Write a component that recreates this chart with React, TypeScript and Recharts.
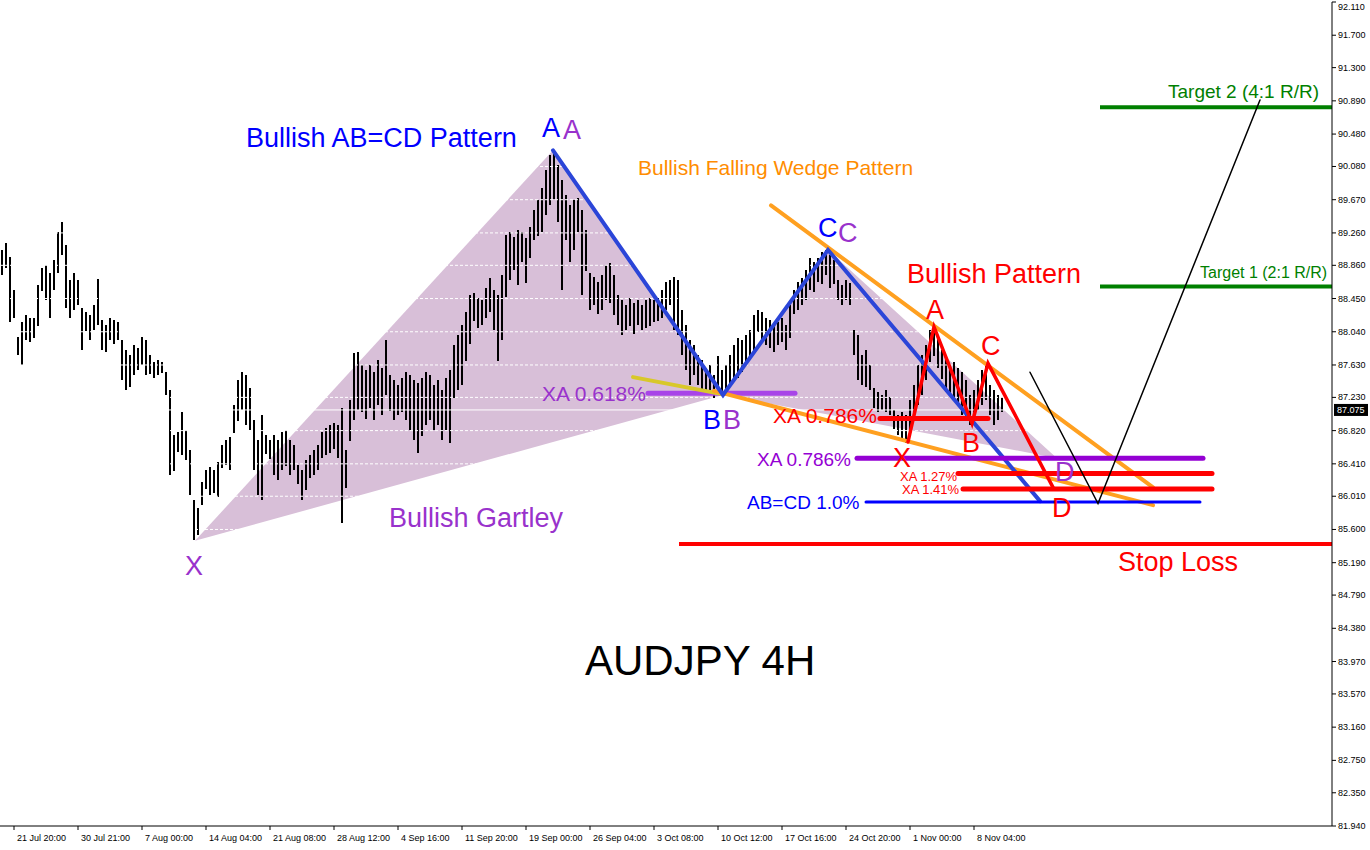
import { ComposedChart, Bar, Line, Area, Scatter, XAxis, YAxis } from 'recharts'

const FONT = '"Liberation Sans", Arial, sans-serif'

// price axis (right)
const priceTicks = [
  81.94, 82.35, 82.75, 83.16, 83.57, 83.97, 84.38, 84.79, 85.19, 85.6, 86.01, 86.41, 86.82,
  87.23, 87.63, 88.04, 88.45, 88.86, 89.26, 89.67, 90.08, 90.48, 90.89, 91.3, 91.7, 92.11,
]

// time axis: bar index of each label
const dateTickIdx = [3, 19, 35, 51, 67, 83, 99, 115, 131, 147, 163, 179, 195, 211, 227, 243]
const dateLabels = [
  '21 Jul 20:00', '30 Jul 21:00', '7 Aug 00:00', '14 Aug 04:00', '21 Aug 08:00', '28 Aug 12:00',
  '4 Sep 16:00', '11 Sep 20:00', '19 Sep 00:00', '26 Sep 04:00', '3 Oct 08:00', '10 Oct 12:00',
  '17 Oct 16:00', '24 Oct 20:00', '1 Nov 00:00', '8 Nov 04:00',
]

// AUDJPY 4H bars (high / low)
const highs = [
  89.05, 89.14, 88.96, 88.55, 87.97, 88.16, 88.25, 88.21, 88.21, 88.62,
  88.83, 88.86, 88.77, 88.92, 89.27, 89.40, 89.11, 88.68, 88.77, 88.68,
  88.33, 88.28, 88.25, 88.37, 88.69, 88.18, 88.12, 88.21, 88.18, 88.16,
  87.94, 87.81, 87.75, 87.88, 87.84, 87.97, 87.94, 87.75, 87.67, 87.69,
  87.67, 87.54, 87.32, 86.76, 86.80, 87.05, 86.83, 86.58, 85.96, 85.86,
  86.19, 86.33, 86.37, 86.33, 86.43, 86.64, 86.70, 86.74, 87.14, 87.45,
  87.54, 87.51, 87.35, 86.95, 86.70, 87.01, 86.76, 86.70, 86.76, 86.70,
  86.80, 86.83, 86.70, 86.64, 86.39, 86.33, 86.46, 86.52, 86.58, 86.64,
  86.80, 86.85, 86.89, 86.92, 86.89, 87.10, 86.58, 87.20, 87.78, 87.79,
  87.63, 87.57, 87.63, 87.54, 87.69, 87.59, 87.94, 87.51, 87.44, 87.38,
  87.47, 87.54, 87.51, 87.44, 87.41, 87.47, 87.54, 87.51, 87.38, 87.44,
  87.32, 87.47, 87.57, 87.88, 88.00, 88.12, 88.28, 88.49, 88.52, 88.46,
  88.43, 88.58, 88.70, 88.55, 88.49, 88.74, 89.23, 89.27, 89.21, 89.30,
  89.27, 89.20, 89.33, 89.54, 89.67, 89.81, 90.04, 90.22, 90.28, 90.10,
  89.91, 89.73, 89.60, 89.67, 89.69, 89.54, 89.30, 88.77, 88.72, 88.65,
  88.74, 88.86, 88.89, 88.74, 88.49, 88.43, 88.37, 88.46, 88.40, 88.43,
  88.37, 88.43, 88.46, 88.43, 88.46, 88.55, 88.65, 88.68, 88.72, 88.68,
  88.31, 88.12, 87.94, 87.88, 87.75, 87.69, 87.59, 87.63, 87.51, 87.74,
  87.57, 87.63, 87.75, 87.88, 87.96, 87.94, 88.00, 88.06, 88.25, 88.31,
  88.28, 88.21, 88.18, 88.12, 88.16, 88.21, 88.12, 88.37, 88.55, 88.65,
  88.70, 88.80, 88.95, 88.90, 88.95, 89.02, 89.05, 88.99, 88.92, 88.68,
  88.62, 88.68, 88.64, 88.06, 88.00, 87.75, 87.81, 87.63, 87.35, 87.30,
  87.26, 87.32, 87.23, 87.07, 87.01, 87.05, 87.01, 87.20, 87.38, 87.63,
  87.75, 87.88, 88.06, 88.09, 88.00, 87.81, 87.72, 87.63, 87.67, 87.59,
  87.54, 87.44, 87.26, 87.32, 87.44, 87.57, 87.63, 87.38, 87.32, 87.26,
  87.23,
]
const lows = [
  88.74, 88.83, 88.16, 88.21, 87.75, 87.63, 87.94, 87.91, 87.96, 88.12,
  88.55, 88.43, 88.21, 88.55, 88.77, 88.99, 88.33, 88.21, 88.31, 88.37,
  87.81, 88.04, 87.94, 88.06, 88.12, 87.81, 87.79, 87.94, 87.88, 87.94,
  87.45, 87.32, 87.35, 87.51, 87.57, 87.63, 87.51, 87.51, 87.47, 87.51,
  87.53, 87.26, 86.27, 86.31, 86.55, 86.52, 86.46, 86.02, 85.47, 85.53,
  85.90, 86.09, 86.02, 86.05, 86.00, 86.36, 86.39, 86.33, 86.80, 86.95,
  87.07, 86.89, 86.83, 86.33, 86.02, 85.96, 86.52, 86.46, 86.27, 86.21,
  86.33, 86.39, 86.27, 86.33, 86.15, 85.96, 86.09, 86.23, 86.27, 86.33,
  86.48, 86.52, 86.55, 86.60, 86.48, 85.68, 86.11, 86.70, 86.95, 87.07,
  87.05, 86.97, 87.10, 86.95, 87.14, 87.01, 87.26, 87.07, 86.95, 87.01,
  87.05, 86.95, 86.83, 86.70, 86.54, 86.76, 86.89, 86.95, 86.83, 86.89,
  86.70, 86.83, 86.67, 87.22, 87.32, 87.38, 87.67, 87.88, 88.18, 88.09,
  88.12, 88.21, 88.28, 88.06, 87.67, 87.94, 88.46, 88.68, 88.80, 88.62,
  88.90, 88.65, 88.95, 89.17, 89.23, 89.27, 89.48, 89.60, 89.67, 89.40,
  88.55, 89.17, 88.90, 89.05, 89.27, 88.49, 88.80, 88.31, 88.37, 88.25,
  88.31, 88.43, 88.40, 88.25, 88.12, 88.00, 88.06, 88.12, 88.02, 88.12,
  88.06, 88.09, 88.12, 88.16, 88.18, 88.21, 88.31, 88.37, 88.06, 88.00,
  87.75, 87.57, 87.38, 87.51, 87.38, 87.32, 87.26, 87.29, 87.23, 87.27,
  87.26, 87.29, 87.38, 87.42, 87.47, 87.54, 87.63, 87.69, 87.81, 88.04,
  87.94, 87.88, 87.84, 87.79, 87.88, 87.91, 87.81, 87.96, 88.25, 88.31,
  88.37, 88.43, 88.55, 88.53, 88.65, 88.62, 88.74, 88.58, 88.62, 88.43,
  88.37, 88.43, 88.37, 87.75, 87.44, 87.38, 87.35, 87.32, 87.10, 87.05,
  87.07, 87.05, 87.01, 86.83, 86.76, 86.70, 86.67, 86.80, 86.95, 87.14,
  87.26, 87.45, 87.67, 87.75, 87.59, 87.45, 87.30, 87.26, 87.20, 87.14,
  87.01, 86.97, 86.89, 86.92, 87.07, 87.14, 87.20, 87.01, 86.89, 86.95,
  87.05,
]
const lastPrice = 87.075

const bars = highs.map((h, i) => ({ x: i, range: [lows[i], h] }))

// pattern drawings, [bar index, price]
const gartleyXAB = [
  { x: 48.25, band: [85.46, 85.46] },
  { x: 137.75, band: [86.68, 90.28] },
  { x: 180.25, band: [87.26, 87.26] },
]
const gartleyBCD = [
  { x: 180.25, band: [87.26, 87.26] },
  { x: 206.5, band: [87.02, 89.05] },
  { x: 263.75, band: [86.48, 86.48] },
]
const abcd = [
  { x: 137.75, p: 90.28 }, { x: 180.25, p: 87.26 }, { x: 206.5, p: 89.05 }, { x: 259.5, p: 85.95 },
]
const redPattern = [
  { x: 226.5, p: 86.68 }, { x: 233, p: 88.1 }, { x: 242.5, p: 86.91 }, { x: 246.5, p: 87.65 }, { x: 262.75, p: 86.12 },
]
const wedgeTop = [{ x: 192.25, p: 89.6 }, { x: 287.75, p: 86.12 }]
const wedgeBottom = [{ x: 178, p: 87.31 }, { x: 287.75, p: 85.9 }]
const wedgeLead = [{ x: 157.75, p: 87.48 }, { x: 180, p: 87.27 }]
const projection = [{ x: 257, p: 87.54 }, { x: 274, p: 85.92 }, { x: 314.5, p: 90.9 }]

const xa618 = [{ x: 161.5, p: 87.28 }, { x: 198.25, p: 87.28 }]
const xa786Red = [{ x: 219.5, p: 86.97 }, { x: 246.5, p: 86.97 }]
const xa786 = [{ x: 213.75, p: 86.48 }, { x: 300.25, p: 86.48 }]
const xa127 = [{ x: 239, p: 86.29 }, { x: 302.5, p: 86.29 }]
const xa141 = [{ x: 240.25, p: 86.1 }, { x: 302.5, p: 86.1 }]
const abcd100 = [{ x: 216, p: 85.94 }, { x: 299.5, p: 85.94 }]
const stopLoss = [{ x: 169.25, p: 85.42 }, { x: 332.5, p: 85.42 }]
const target1 = [{ x: 274.5, p: 88.6 }, { x: 332.5, p: 88.6 }]
const target2 = [{ x: 274.5, p: 90.81 }, { x: 332.5, p: 90.81 }]

const gridRows = priceTicks.map(p => [{ x: -0.5, p }, { x: 332.5, p }])
const bidRow = [{ x: -0.5, p: lastPrice }, { x: 332.5, p: lastPrice }]

const notes = [
  { x: 61, p: 90.32, text: 'Bullish AB=CD Pattern', kind: 'blueBig' },
  { x: 135, p: 90.44, text: 'A', kind: 'blueBig' },
  { x: 140.25, p: 90.42, text: 'A', kind: 'purpleBig' },
  { x: 159, p: 89.97, text: 'Bullish Falling Wedge Pattern', kind: 'orange' },
  { x: 204, p: 89.21, text: 'C', kind: 'blueBig' },
  { x: 209, p: 89.15, text: 'C', kind: 'purpleBig' },
  { x: 226.25, p: 88.64, text: 'Bullish Pattern', kind: 'redBig' },
  { x: 231, p: 88.2, text: 'A', kind: 'redBig' },
  { x: 244.75, p: 87.75, text: 'C', kind: 'redBig' },
  { x: 135, p: 87.18, text: 'XA 0.618%', kind: 'purpleMid' },
  { x: 175.25, p: 86.84, text: 'B', kind: 'blueBig' },
  { x: 180.25, p: 86.84, text: 'B', kind: 'purpleBig' },
  { x: 192.75, p: 86.91, text: 'XA 0.786%', kind: 'redMid' },
  { x: 240, p: 86.55, text: 'B', kind: 'redBig' },
  { x: 222.75, p: 86.37, text: 'X', kind: 'redBig' },
  { x: 188.75, p: 86.38, text: 'XA 0.786%', kind: 'violetMid' },
  { x: 224.5, p: 86.2, text: 'XA 1.27%', kind: 'redSmall' },
  { x: 225, p: 86.04, text: 'XA 1.41%', kind: 'redSmall' },
  { x: 263.25, p: 86.2, text: 'D', kind: 'purpleBig' },
  { x: 262.5, p: 85.75, text: 'D', kind: 'redBig' },
  { x: 186.25, p: 85.85, text: 'AB=CD 1.0%', kind: 'blueMid' },
  { x: 96.75, p: 85.63, text: 'Bullish Gartley', kind: 'purpleBig' },
  { x: 45.75, p: 85.04, text: 'X', kind: 'purpleBig' },
  { x: 279, p: 85.09, text: 'Stop Loss', kind: 'redBig' },
  { x: 291.5, p: 90.93, text: 'Target 2 (4:1 R/R)', kind: 'green2' },
  { x: 299.5, p: 88.7, text: 'Target 1 (2:1 R/R)', kind: 'green1' },
  { x: 145.75, p: 83.8, text: 'AUDJPY 4H', kind: 'title' },
]

const noteStyle: Record<string, { fill: string; size: number }> = {
  blueBig: { fill: '#0000ff', size: 27 },
  blueMid: { fill: '#0000ff', size: 19 },
  purpleBig: { fill: '#9932cc', size: 27 },
  purpleMid: { fill: '#9932cc', size: 21 },
  violetMid: { fill: '#9400d3', size: 19 },
  redBig: { fill: '#ff0000', size: 27 },
  redMid: { fill: '#ff0000', size: 21 },
  redSmall: { fill: '#ff0000', size: 13 },
  orange: { fill: '#ff8c00', size: 21 },
  green2: { fill: '#008000', size: 19 },
  green1: { fill: '#008000', size: 16 },
  title: { fill: '#000000', size: 42 },
}

function NoteText(props: any) {
  const { cx, cy, payload } = props
  const s = noteStyle[payload.kind]
  return (
    <text x={cx} y={cy} fill={s.fill} fontSize={s.size} fontFamily={FONT}>
      {payload.text}
    </text>
  )
}

function BidBox(props: any) {
  const { cx, cy } = props
  return (
    <g>
      <rect x={cx + 2} y={cy - 6} width={34} height={12} fill="#000" />
      <text x={cx + 5} y={cy + 3.5} fill="#fff" fontSize={9} fontFamily={FONT}>
        {lastPrice.toFixed(3)}
      </text>
    </g>
  )
}

function OhlcBar(props: any) {
  const { x, y, width, height } = props
  if (height == null || isNaN(height)) return null
  const cx = Math.round(x + width / 2)
  return <rect x={cx - 1} y={Math.round(y)} width={2} height={Math.max(1, Math.round(height))} fill="#000" shapeRendering="crispEdges" />
}

function DateTick(props: any) {
  const { x, y, payload } = props
  const i = dateTickIdx.indexOf(payload.value)
  return (
    <g>
      <line x1={x} x2={x} y1={y} y2={y + 4} stroke="#000" />
      <text x={x + 3} y={y + 15} fontSize={9} fontFamily={FONT} fill="#000">
        {dateLabels[i]}
      </text>
    </g>
  )
}

function PriceTick(props: any) {
  const { x, y, payload } = props
  return (
    <text x={x} y={Math.max(y, 7) + 3} fontSize={9} fontFamily={FONT} fill="#000">
      {payload.value.toFixed(3)}
    </text>
  )
}

function seg(data: any[], stroke: string, width: number, extra: any = {}) {
  return (
    <Line
      data={data}
      dataKey="p"
      type="linear"
      stroke={stroke}
      strokeWidth={width}
      strokeLinecap="round"
      dot={false}
      activeDot={false}
      isAnimationActive={false}
      {...extra}
    />
  )
}

export default function App() {
  return (
    <div style={{ width: 1370, height: 850, background: '#fff' }}>
      <style>{'body{margin:0}'}</style>
      <ComposedChart width={1370} height={850} data={bars} margin={{ top: 2, right: 0, bottom: 0, left: 0 }}>
        <XAxis
          dataKey="x"
          type="number"
          domain={[-0.5, 332.5]}
          ticks={dateTickIdx}
          interval={0}
          height={24}
          axisLine={{ stroke: '#000' }}
          tickLine={false}
          tickSize={0}
          tickMargin={0}
          tick={<DateTick />}
        />
        <YAxis
          orientation="right"
          type="number"
          domain={[81.94, 92.11]}
          ticks={priceTicks}
          interval={0}
          width={38}
          axisLine={{ stroke: '#000' }}
          tickLine={{ stroke: '#000' }}
          tickSize={4}
          tickMargin={2}
          tick={<PriceTick />}
        />

        <Area data={gartleyXAB} dataKey="band" type="linear" fill="#d8bfd8" fillOpacity={1} stroke="none" isAnimationActive={false} />
        <Area data={gartleyBCD} dataKey="band" type="linear" fill="#d8bfd8" fillOpacity={1} stroke="none" isAnimationActive={false} />

        {gridRows.map((r, k) => (
          <Line key={'g' + k} data={r} dataKey="p" stroke="#ffffff" strokeWidth={1} strokeDasharray="3 2" dot={false} activeDot={false} isAnimationActive={false} />
        ))}
        {seg(bidRow, '#ffffff', 1, { strokeLinecap: 'butt' })}

        <Bar dataKey="range" barSize={2} fill="#000000" shape={<OhlcBar />} isAnimationActive={false} />

        {seg(xa618, '#a844e8', 5)}
        {seg(wedgeLead, '#d8c82a', 4)}
        {seg(wedgeBottom, '#ffa020', 4)}
        {seg(wedgeTop, '#ffa020', 4)}
        {seg(abcd, '#2b45d8', 4)}
        {seg(xa786, '#9400d3', 5)}
        {seg(xa127, '#ff0000', 5)}
        {seg(xa141, '#ff0000', 5)}
        {seg(abcd100, '#0000ff', 3)}
        {seg(xa786Red, '#ff0000', 5)}
        {seg(redPattern, '#ff0000', 3.5)}
        {seg(stopLoss, '#ff0000', 4, { strokeLinecap: 'butt' })}
        {seg(target1, '#008000', 4, { strokeLinecap: 'butt' })}
        {seg(target2, '#008000', 4, { strokeLinecap: 'butt' })}
        {seg(projection, '#000000', 1.5)}

        <Scatter data={[{ x: 332.5, p: lastPrice }]} dataKey="p" shape={<BidBox />} isAnimationActive={false} />
        <Scatter data={notes} dataKey="p" shape={(p: any) => <NoteText {...p} />} isAnimationActive={false} />
      </ComposedChart>
    </div>
  )
}
